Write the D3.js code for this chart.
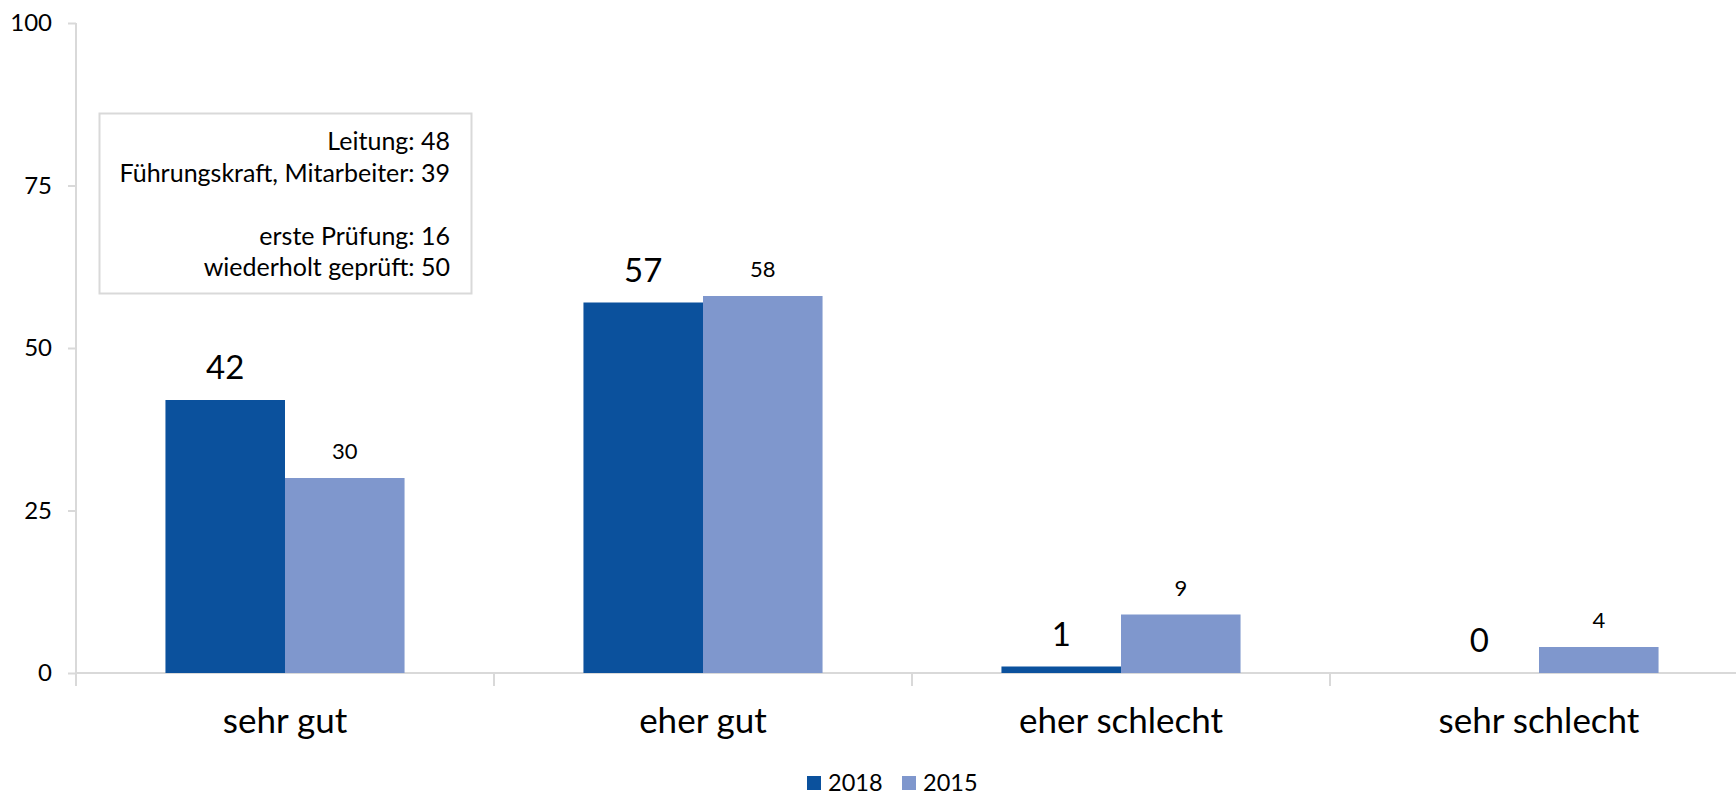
<!DOCTYPE html>
<html lang="de">
  <head>
    <meta charset="utf-8">
    <title>Bewertung 2018 / 2015</title>
    <script type="text/javascript" src="https://cdn.jsdelivr.net/npm/d3@7"></script>
    <style type="text/css">
      body { margin: 0; background: #fff; }
      text { font-family: Lato, "Open Sans", sans-serif; fill: #000; }
    </style>
  </head>
  <body>
    <script type="text/javascript">

      //Width and height
      var w = 1736;
      var h = 795;

      //Data
      var categories = ["sehr gut", "eher gut", "eher schlecht", "sehr schlecht"];
      var seriesNames = ["2018", "2015"];
      var values2018 = [42, 57, 1, 0];
      var values2015 = [30, 58, 9, 4];
      var yTicks = [0, 25, 50, 75, 100];
      var noteLines = ["Leitung: 48", "Führungskraft, Mitarbeiter: 39", "", "erste Prüfung: 16", "wiederholt geprüft: 50"];

      var colors = { "2018": "#0b519d", "2015": "#7f97cd" };

      var rows = categories.map(function(c, i) {
        return { cat: c, vals: [
          { key: "2018", v: values2018[i] },
          { key: "2015", v: values2015[i] }
        ] };
      });

      //Scales
      var x0 = d3.scaleBand()
                 .domain(categories)
                 .range([76, 1748])
                 .paddingInner(0.428)
                 .paddingOuter(0.214);

      var x1 = d3.scaleBand()
                 .domain(seriesNames)
                 .range([0, x0.bandwidth()]);

      var y = d3.scaleLinear()
                .domain([0, 100])
                .range([673, 23]);

      var svg = d3.select("body")
                  .append("svg")
                  .attr("width", w)
                  .attr("height", h);

      //Y axis
      var yAxis = svg.append("g")
                     .attr("transform", "translate(76,0)")
                     .call(d3.axisLeft(y).tickValues(yTicks).tickSize(8).tickPadding(16));
      yAxis.select(".domain").remove();
      yAxis.selectAll("line").attr("stroke", "#d9d9d9").attr("stroke-width", 2);
      yAxis.selectAll("text").style("font-size", "24px").attr("fill", "#000");

      svg.append("line")
         .attr("x1", 76).attr("x2", 76)
         .attr("y1", y(100)).attr("y2", 686)
         .attr("stroke", "#d9d9d9").attr("stroke-width", 2);

      //X axis
      svg.append("line")
         .attr("x1", 76).attr("x2", w)
         .attr("y1", y(0)).attr("y2", y(0))
         .attr("stroke", "#d9d9d9").attr("stroke-width", 2);

      svg.selectAll(".xtick")
         .data(categories.slice(1))
         .enter()
         .append("line")
         .attr("class", "xtick")
         .attr("x1", function(d) { return x0(d) - x0.step() * x0.paddingInner() / 2; })
         .attr("x2", function(d) { return x0(d) - x0.step() * x0.paddingInner() / 2; })
         .attr("y1", y(0)).attr("y2", 686)
         .attr("stroke", "#d9d9d9").attr("stroke-width", 2);

      svg.selectAll(".catlabel")
         .data(categories)
         .enter()
         .append("text")
         .attr("class", "catlabel")
         .attr("x", function(d) { return x0(d) + x0.bandwidth() / 2; })
         .attr("y", 733)
         .attr("text-anchor", "middle")
         .style("font-size", "35px")
         .text(function(d) { return d; });

      //Bars
      var groups = svg.selectAll(".group")
                      .data(rows)
                      .enter()
                      .append("g")
                      .attr("class", "group")
                      .attr("transform", function(d) { return "translate(" + x0(d.cat) + ",0)"; });

      groups.selectAll("rect")
            .data(function(d) { return d.vals; })
            .enter()
            .append("rect")
            .attr("x", function(d) { return x1(d.key); })
            .attr("y", function(d) { return y(d.v); })
            .attr("width", x1.bandwidth())
            .attr("height", function(d) { return y(0) - y(d.v); })
            .style("fill", function(d) { return colors[d.key]; });

      groups.selectAll(".vlabel")
            .data(function(d) { return d.vals; })
            .enter()
            .append("text")
            .attr("class", "vlabel")
            .attr("x", function(d) { return x1(d.key) + x1.bandwidth() / 2; })
            .attr("y", function(d) { return y(d.v) - (d.key === "2018" ? 21 : 19); })
            .attr("text-anchor", "middle")
            .style("font-size", function(d) { return d.key === "2018" ? "33px" : "22px"; })
            .text(function(d) { return d.v; });

      //Note box
      svg.append("rect")
         .attr("x", 99.5).attr("y", 113.5)
         .attr("width", 372).attr("height", 180)
         .attr("fill", "#fff")
         .attr("stroke", "#d9d9d9").attr("stroke-width", 2);

      svg.selectAll(".note")
         .data(noteLines)
         .enter()
         .append("text")
         .attr("class", "note")
         .attr("x", 450)
         .attr("y", function(d, i) { return 150 + i * 31.5; })
         .attr("text-anchor", "end")
         .style("font-size", "25px")
         .text(function(d) { return d; });

      //Legend
      var legend = svg.selectAll(".legend")
                      .data(seriesNames)
                      .enter()
                      .append("g")
                      .attr("class", "legend")
                      .attr("transform", function(d, i) { return "translate(" + (807 + i * 95) + ",776)"; });

      legend.append("rect")
            .attr("width", 14).attr("height", 14)
            .style("fill", function(d) { return colors[d]; });

      legend.append("text")
            .attr("x", 21).attr("y", 15)
            .style("font-size", "23.5px")
            .text(function(d) { return d; });

    </script>
  </body>
</html>
